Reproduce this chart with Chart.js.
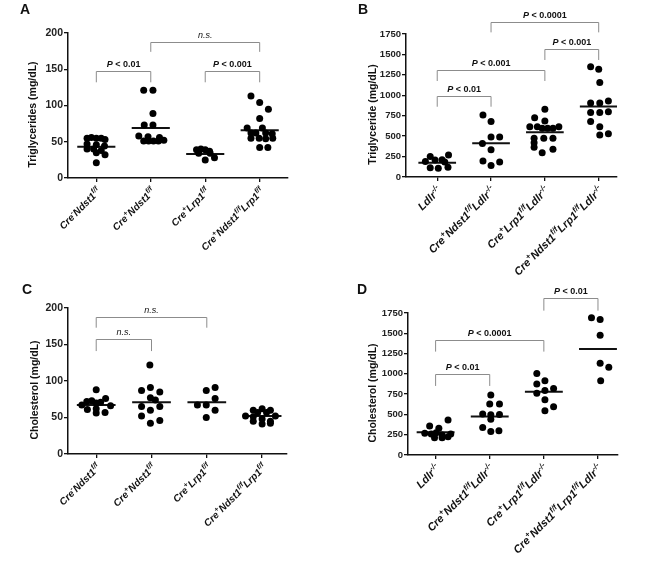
<!DOCTYPE html>
<html lang="en">
<head>
<meta charset="UTF-8">
<title>Plasma lipids</title>
<script src="https://cdn.jsdelivr.net/npm/chart.js"></script>
<style>
    body { margin: 0; background: #fff; }
    .panel { position: absolute; }
</style>
</head>
<body>
<div class="panel" style="left:0;top:0"><canvas id="chartA" width="324" height="282"></canvas></div>
<div class="panel" style="left:324px;top:0"><canvas id="chartB" width="324" height="282"></canvas></div>
<div class="panel" style="left:0;top:282px"><canvas id="chartC" width="324" height="281"></canvas></div>
<div class="panel" style="left:324px;top:282px"><canvas id="chartD" width="324" height="281"></canvas></div>
<script>
// tick labels, {..} = superscript
const catsAC = ['Cre{-}Ndst1{f/f}', 'Cre{+}Ndst1{f/f}', 'Cre{+}Lrp1{f/f}', 'Cre{+}Ndst1{f/f}Lrp1{f/f}'];
const catsBD = ['Ldlr{-/-}', 'Cre{+}Ndst1{f/f}Ldlr{-/-}', 'Cre{+}Lrp1{f/f}Ldlr{-/-}', 'Cre{+}Ndst1{f/f}Lrp1{f/f}Ldlr{-/-}'];

// each point = [jitter within the column, value]
const trigA = [
    [[-0.17,55],[-0.09,56],[0.0,55],[0.09,55],[0.16,53],[-0.17,47],[0.0,46],[0.15,44],[-0.17,40],[-0.05,40],[0.09,38],[0.0,35],[0.16,32],[0.0,21]],
    [[-0.13,121],[0.04,121],[0.04,89],[-0.12,73],[0.04,73],[-0.22,58],[-0.05,57],[0.16,56],[-0.13,51],[-0.04,51],[0.05,51],[0.14,51],[0.24,52]],
    [[-0.16,39],[-0.08,40],[0.0,39],[0.08,37],[-0.12,34],[0.09,34],[0.17,28],[0.0,25]],
    [[-0.16,113],[0.0,104],[0.16,95],[0.0,82],[-0.23,69],[0.05,69],[-0.16,62],[-0.07,62],[0.11,62],[0.23,61],[-0.16,55],[-0.01,55],[0.11,54],[0.24,55],[0.0,42],[0.15,42]]
];
const trigAMean = [43, 69, 33, 66];

const trigB = [
    [[-0.13,250],[0.21,268],[-0.04,208],[0.09,212],[-0.22,190],[0.14,185],[-0.13,114],[0.02,106],[0.2,118]],
    [[-0.15,760],[0.0,680],[0.0,490],[0.16,490],[-0.16,410],[0.0,335],[-0.15,195],[0.16,185],[0.0,140]],
    [[0.0,828],[-0.19,726],[0.0,685],[-0.28,616],[-0.14,616],[-0.05,596],[0.05,596],[0.15,596],[0.26,616],[-0.2,473],[-0.02,473],[0.15,473],[-0.2,420],[-0.2,363],[0.15,339],[-0.05,298]],
    [[-0.15,1350],[0.0,1318],[0.02,1155],[-0.15,905],[0.02,905],[0.18,930],[-0.15,790],[0.02,790],[0.18,800],[-0.15,680],[0.02,615],[0.02,515],[0.18,530]]
];
const trigBMean = [175, 412, 547, 862];

const cholC = [
    [[0.0,88],[0.17,76],[-0.17,72],[-0.08,73],[0.0,70],[0.08,71],[0.26,66],[-0.26,67],[-0.16,61],[0.0,62],[0.0,56],[0.16,57]],
    [[-0.03,122],[-0.18,87],[-0.02,91],[0.15,85],[-0.02,77],[0.07,74],[-0.18,65],[0.15,65],[-0.02,60],[-0.18,52],[0.15,46],[-0.02,42]],
    [[-0.01,87],[0.15,91],[0.15,76],[-0.17,67],[-0.01,67],[0.15,60],[-0.01,50]],
    [[-0.16,60],[0.0,62],[0.15,60],[-0.08,57],[0.08,57],[-0.3,52],[-0.16,51],[0.24,52],[-0.16,45],[0.0,48],[0.15,45],[0.0,41],[0.15,42]]
];
const cholCMean = [67, 71, 71, 52];

const cholD = [
    [[0.23,432],[-0.11,358],[0.06,329],[-0.2,267],[-0.08,259],[0.01,275],[0.12,247],[0.28,259],[-0.02,214],[0.12,214],[0.23,226]],
    [[0.02,740],[0.0,630],[0.18,630],[-0.13,505],[0.02,495],[0.18,500],[0.02,440],[-0.13,340],[0.02,290],[0.17,300]],
    [[-0.13,1005],[-0.13,875],[0.02,915],[-0.13,760],[0.02,795],[0.18,820],[0.02,680],[0.18,595],[0.02,545]],
    [[-0.12,1690],[0.04,1670],[0.04,1475],[0.04,1130],[0.2,1080],[0.05,915]]
];
const cholDMean = [280, 473, 781, 1307];

// significance brackets: [from, to, bar value, leg end value, label]
const sigA = [[0, 1, 148, 132, 'P < 0.01'], [2, 3, 148, 132, 'P < 0.001'], [1, 3, 188, 174, 'n.s.']];
const sigB = [[1, 3, 1900, 1770, 'P < 0.0001'], [2, 3, 1563, 1432, 'P < 0.001'], [0, 2, 1310, 1175, 'P < 0.001'], [0, 1, 995, 860, 'P < 0.01']];
const sigC = [[0, 2, 188, 173, 'n.s.'], [0, 1, 157, 141, 'n.s.']];
const sigD = [[2, 3, 1940, 1779, 'P < 0.01'], [0, 2, 1418, 1274, 'P < 0.0001'], [0, 1, 995, 851, 'P < 0.01']];

const FONT = '"Liberation Sans", Arial, sans-serif';
const MEAN_HALF = 0.35;

function parseRich(s) {
    let out = [];
    s.split(/(\{[^}]*\})/).forEach(p => {
        if (!p) return;
        if (p[0] === '{') out.push({ t: p.slice(1, -1), sup: true });
        else out.push({ t: p, sup: false });
    });
    return out;
}

function drawRich(ctx, segs, x, y, size) {
    let base = 'italic bold ' + size + 'px ' + FONT;
    let small = 'italic bold ' + (size * 0.72) + 'px ' + FONT;
    let total = 0;
    segs.forEach(s => { ctx.font = s.sup ? small : base; s.w = ctx.measureText(s.t).width; total += s.w; });
    ctx.save();
    ctx.translate(x, y);
    ctx.rotate(-Math.PI / 4);
    ctx.textAlign = 'left';
    ctx.textBaseline = 'alphabetic';
    let cx = -total;
    segs.forEach(s => {
        ctx.font = s.sup ? small : base;
        ctx.fillText(s.t, cx, s.sup ? -size * 0.42 : 0);
        cx += s.w;
    });
    ctx.restore();
}

function drawSigLabel(ctx, label, cx, y) {
    let parts = label[0] === 'P'
        ? [['P', 'italic bold 9px ' + FONT], [label.slice(1), 'bold 9px ' + FONT]]
        : [[label, 'italic 9px ' + FONT]];
    let total = 0;
    parts.forEach(p => { ctx.font = p[1]; p.push(ctx.measureText(p[0]).width); total += p[2]; });
    let x = cx - total / 2;
    ctx.textAlign = 'left';
    ctx.textBaseline = 'alphabetic';
    parts.forEach(p => { ctx.font = p[1]; ctx.fillText(p[0], x, y); x += p[2]; });
}

const decor = {
    id: 'decor',
    afterDraw(chart) {
        let cfg = chart.options.plugins.decor;
        let ctx = chart.ctx, xs = chart.scales.x, ys = chart.scales.y, area = chart.chartArea;
        ctx.save();
        ctx.fillStyle = '#111';
        // panel letter
        ctx.font = 'bold 14px ' + FONT;
        ctx.textAlign = 'left';
        ctx.textBaseline = 'alphabetic';
        ctx.fillText(cfg.letter, cfg.letterPos[0], cfg.letterPos[1]);
        // y title
        ctx.save();
        ctx.translate(cfg.titleX, (area.top + area.bottom) / 2 + 9);
        ctx.rotate(-Math.PI / 2);
        ctx.font = 'bold 10.5px ' + FONT;
        ctx.textAlign = 'center';
        ctx.textBaseline = 'middle';
        ctx.fillText(cfg.title, 0, 0);
        ctx.restore();
        // category labels
        cfg.cats.forEach((c, i) => {
            drawRich(ctx, parseRich(c), xs.getPixelForValue(i) + 5, area.bottom + 14, cfg.catSize);
        });
        // brackets
        ctx.strokeStyle = '#8c8c8c';
        ctx.lineWidth = 1;
        cfg.sig.forEach(([a, b, bar, leg, label]) => {
            let x1 = xs.getPixelForValue(a), x2 = xs.getPixelForValue(b);
            let yb = Math.round(ys.getPixelForValue(bar)) + 0.5, yl = ys.getPixelForValue(leg);
            ctx.beginPath();
            ctx.moveTo(x1, yl); ctx.lineTo(x1, yb); ctx.lineTo(x2, yb); ctx.lineTo(x2, yl);
            ctx.stroke();
            drawSigLabel(ctx, label, (x1 + x2) / 2, yb - 5);
        });
        ctx.restore();
    }
};

function makePanel(p) {
    let datasets = [{
        data: p.points.flatMap((grp, i) => grp.map(([dx, v]) => ({ x: i + dx, y: v }))),
        pointRadius: 3.5,
        pointHoverRadius: 3.5,
        pointBackgroundColor: '#000',
        pointBorderWidth: 0,
        showLine: false
    }];
    p.means.forEach((m, i) => datasets.push({
        data: [{ x: i - MEAN_HALF, y: m }, { x: i + MEAN_HALF, y: m }],
        showLine: true,
        borderColor: '#111',
        borderWidth: 2,
        pointRadius: 0
    }));
    let canvas = document.getElementById(p.id);
    let axisGrid = { drawOnChartArea: false, drawTicks: true, tickLength: 4, color: '#111', lineWidth: 1.3 };
    new Chart(canvas, {
        type: 'scatter',
        data: { datasets: datasets },
        options: {
            responsive: false,
            animation: false,
            events: [],
            layout: { padding: { left: 0, top: p.box.top, right: canvas.width - p.box.right, bottom: 0 } },
            plugins: {
                legend: { display: false },
                tooltip: { enabled: false },
                decor: { letter: p.letter, letterPos: p.letterPos, title: p.title, titleX: p.titleX, cats: p.cats, catSize: p.catSize, sig: p.sig }
            },
            scales: {
                x: {
                    type: 'linear',
                    min: p.xMin,
                    max: p.xMax,
                    afterBuildTicks: s => { s.ticks = [0, 1, 2, 3].map(v => ({ value: v })); },
                    afterFit: s => { s.height = canvas.height - p.box.bottom; },
                    ticks: { display: false },
                    grid: axisGrid,
                    border: { color: '#111', width: 1.5 }
                },
                y: {
                    min: 0,
                    max: p.yMax,
                    afterFit: s => { s.width = p.box.left; },
                    ticks: {
                        stepSize: p.step, color: '#222', padding: 1,
                        font: { family: FONT, size: p.tickSize, weight: 'bold' },
                        callback: v => String(v)
                    },
                    grid: axisGrid,
                    border: { color: '#111', width: 1.5 }
                }
            }
        },
        plugins: [decor]
    });
}

makePanel({ id: 'chartA', letter: 'A', letterPos: [20, 14], title: 'Triglycerides (mg/dL)', titleX: 33,
    points: trigA, means: trigAMean, cats: catsAC, catSize: 10, sig: sigA, yMax: 200, step: 50, tickSize: 10.5,
    xMin: -0.52, xMax: 3.52, box: { left: 68, right: 288, top: 33, bottom: 178 } });
makePanel({ id: 'chartB', letter: 'B', letterPos: [34, 14], title: 'Triglyceride (mg/dL)', titleX: 49,
    points: trigB, means: trigBMean, cats: catsBD, catSize: 11, sig: sigB, yMax: 1750, step: 250, tickSize: 9.5,
    xMin: -0.58, xMax: 3.34, box: { left: 82, right: 293, top: 34, bottom: 177 } });
makePanel({ id: 'chartC', letter: 'C', letterPos: [22, 12], title: 'Cholesterol (mg/dL)', titleX: 35,
    points: cholC, means: cholCMean, cats: catsAC, catSize: 10, sig: sigC, yMax: 200, step: 50, tickSize: 10.5,
    xMin: -0.51, xMax: 3.45, box: { left: 68, right: 287, top: 26, bottom: 172 } });
makePanel({ id: 'chartD', letter: 'D', letterPos: [33, 12], title: 'Cholesterol (mg/dL)', titleX: 49,
    points: cholD, means: cholDMean, cats: catsBD, catSize: 11, sig: sigD, yMax: 1750, step: 250, tickSize: 9.5,
    xMin: -0.51, xMax: 3.37, box: { left: 84, right: 294, top: 31, bottom: 173 } });
</script>
</body>
</html>
